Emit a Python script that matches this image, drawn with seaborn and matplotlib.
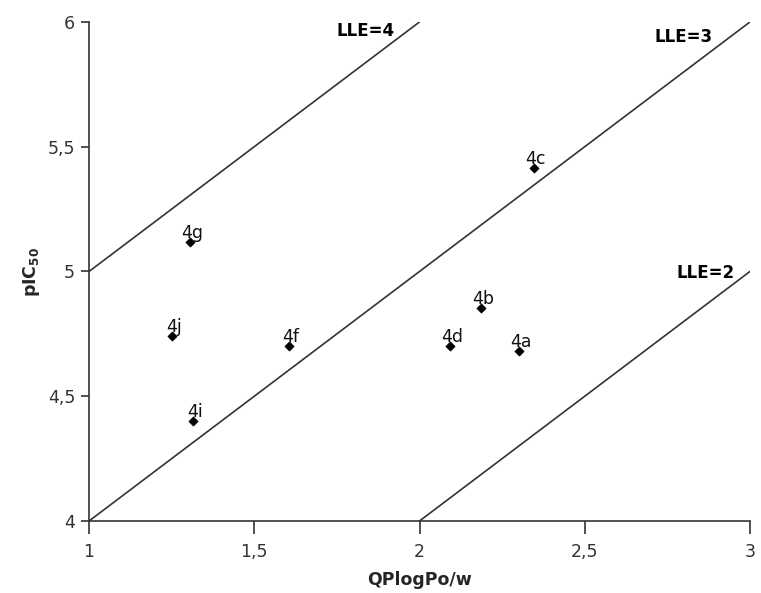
import matplotlib
matplotlib.use("Agg")
import matplotlib.pyplot as plt
import matplotlib.ticker as mticker
import numpy as np
import pandas as pd
import seaborn as sns

compounds = ["4a", "4b", "4c", "4d", "4f", "4g", "4i", "4j"]
qplogpow = [2.30, 2.186, 2.345, 2.092, 1.605, 1.306, 1.315, 1.251]
pic50 = [4.68, 4.854, 5.415, 4.70, 4.70, 5.118, 4.40, 4.741]
lle_values = [4, 3, 2]
lle_label_pos = [(1.925, 5.965), (2.888, 5.94), (2.955, 4.995)]
xticks = [1, 1.5, 2, 2.5, 3]
yticks = [4, 4.5, 5, 5.5, 6]

sns.set_theme(style="ticks")
plt.rcParams['font.family'] = ['DejaVu Sans']

df = pd.DataFrame({"x": qplogpow, "y": pic50, "name": compounds})

fig = plt.figure(figsize=(7.61, 5.93), dpi=100)
ax = fig.add_axes([0.117, 0.1214, 0.8685, 0.8416])

xmin, xmax, ymin, ymax = 1, 3, 4, 6
for lle in lle_values:
    x0 = max(xmin, ymin - lle)
    x1 = min(xmax, ymax - lle)
    xs = np.array([x0, x1])
    ax.plot(xs, xs + lle, color="#333333", lw=1.2, zorder=1)

sns.scatterplot(data=df, x="x", y="y", marker="D", s=22, color="black",
                edgecolor="black", linewidth=0.5, ax=ax, zorder=3)

for _, r in df.iterrows():
    ax.text(r["x"] + 0.006, r["y"] + 0.016, r["name"], ha="center", va="baseline",
            fontsize=12.5, color="#111111", zorder=4)

for lle, (lx, ly) in zip(lle_values, lle_label_pos):
    ax.text(lx, ly, f"LLE={lle}", ha="right", va="center", fontsize=12,
            fontweight="bold", color="black")

ax.set_xlim(xmin, xmax)
ax.set_ylim(ymin, ymax)
ax.set_xticks(xticks)
ax.set_yticks(yticks)
fmt = mticker.FuncFormatter(lambda v, p: (f"{v:g}").replace(".", ","))
ax.xaxis.set_major_formatter(fmt)
ax.yaxis.set_major_formatter(fmt)
ax.tick_params(axis="x", length=9, width=1.2, labelsize=12.5, colors="#333333", pad=7)
ax.tick_params(axis="y", length=6, width=1.2, labelsize=12.5, colors="#333333", pad=4)
ax.set_xlabel("QPlogPo/w", fontsize=12.5, fontweight="bold", labelpad=7)
ax.set_ylabel("pIC$_{\\mathbf{50}}$", fontsize=12.5, fontweight="bold", labelpad=4)
for s in ["top", "right"]:
    ax.spines[s].set_visible(False)
for s in ["left", "bottom"]:
    ax.spines[s].set_color("#333333")
    ax.spines[s].set_linewidth(1.2)

fig.savefig("out.png", dpi=100)
